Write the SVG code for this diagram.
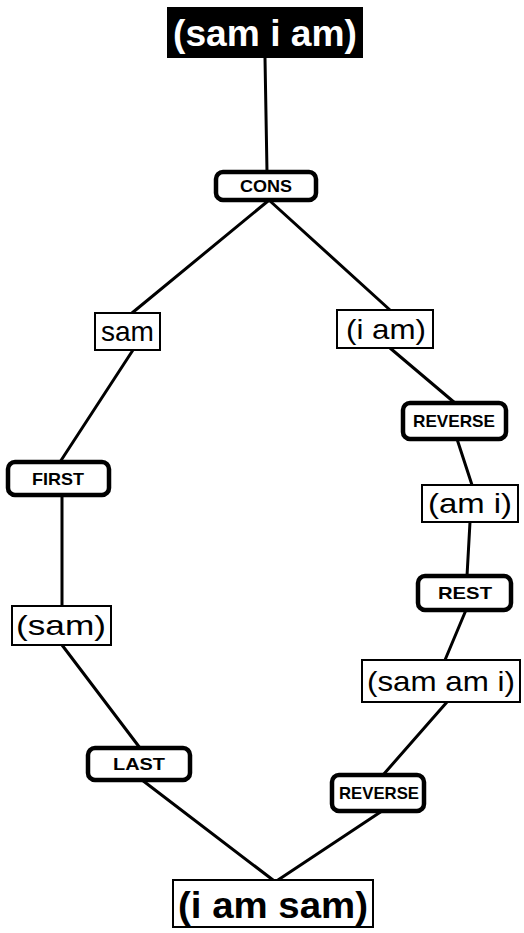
<svg xmlns="http://www.w3.org/2000/svg" width="524" height="933" viewBox="0 0 524 933">
<style>
.edge{stroke:#000;stroke-width:3;fill:none;stroke-linecap:round}
.val{fill:#fff;stroke:#000;stroke-width:2}
.fn{fill:#fff;stroke:#000;stroke-width:4.5}
.vt{font-family:"Liberation Sans",Arial,sans-serif;font-size:28px;text-anchor:middle;fill:#000}
.ft{font-family:"Liberation Sans",Arial,sans-serif;font-size:17px;font-weight:bold;text-anchor:middle;fill:#000}
</style>
<rect width="524" height="933" fill="#fff"/>
<g id="connectors">
<line class="edge" x1="265" y1="58" x2="267" y2="172"/>
<line class="edge" x1="268" y1="201" x2="132" y2="313"/>
<line class="edge" x1="270" y1="201" x2="390" y2="310"/>
<line class="edge" x1="133" y1="350" x2="60" y2="462"/>
<line class="edge" x1="390" y1="348" x2="455" y2="403"/>
<line class="edge" x1="457" y1="439" x2="472" y2="485"/>
<line class="edge" x1="470" y1="522" x2="467" y2="576"/>
<line class="edge" x1="62" y1="495" x2="62" y2="606"/>
<line class="edge" x1="466" y1="610" x2="445" y2="660"/>
<line class="edge" x1="62" y1="645" x2="140" y2="748"/>
<line class="edge" x1="447" y1="702" x2="383" y2="775"/>
<line class="edge" x1="142" y1="780" x2="273" y2="880"/>
<line class="edge" x1="382" y1="811" x2="278" y2="880"/>
</g>
<g id="n-top">
<rect x="167" y="7" width="196" height="51" fill="#000"/>
<text x="265" y="46" font-family="Liberation Sans, Arial, sans-serif" font-size="36" font-weight="bold" fill="#fff" text-anchor="middle" textLength="184" lengthAdjust="spacingAndGlyphs">(sam i am)</text>
</g>
<g id="n-cons">
<rect class="fn" x="216" y="172" width="100" height="28" rx="7"/>
<text class="ft" x="266" y="192" textLength="52" lengthAdjust="spacingAndGlyphs">CONS</text>
</g>
<g id="n-sam">
<rect class="val" x="95" y="313" width="65" height="37"/>
<text class="vt" x="127.5" y="341" textLength="53" lengthAdjust="spacingAndGlyphs">sam</text>
</g>
<g id="n-iam">
<rect class="val" x="337" y="310" width="96" height="38"/>
<text class="vt" x="386" y="339" textLength="80" lengthAdjust="spacingAndGlyphs">(i am)</text>
</g>
<g id="n-reverse1">
<rect class="fn" x="403" y="403" width="103" height="36" rx="7"/>
<text class="ft" x="454" y="427" textLength="82" lengthAdjust="spacingAndGlyphs">REVERSE</text>
</g>
<g id="n-ami">
<rect class="val" x="422" y="485" width="96" height="37"/>
<text class="vt" x="470" y="513" textLength="84" lengthAdjust="spacingAndGlyphs">(am i)</text>
</g>
<g id="n-rest">
<rect class="fn" x="418" y="576" width="93" height="34" rx="7"/>
<text class="ft" x="465" y="599" textLength="54" lengthAdjust="spacingAndGlyphs">REST</text>
</g>
<g id="n-samami">
<rect class="val" x="362" y="660" width="158" height="42"/>
<text class="vt" x="441" y="691" textLength="148" lengthAdjust="spacingAndGlyphs">(sam am i)</text>
</g>
<g id="n-reverse2">
<rect class="fn" x="332" y="775" width="92" height="36" rx="7"/>
<text class="ft" x="379" y="799" textLength="80" lengthAdjust="spacingAndGlyphs">REVERSE</text>
</g>
<g id="n-first">
<rect class="fn" x="8" y="462" width="101" height="33" rx="7"/>
<text class="ft" x="58" y="485" textLength="52" lengthAdjust="spacingAndGlyphs">FIRST</text>
</g>
<g id="n-samlist">
<rect class="val" x="12" y="606" width="99" height="39"/>
<text class="vt" x="61" y="635" textLength="90" lengthAdjust="spacingAndGlyphs">(sam)</text>
</g>
<g id="n-last">
<rect class="fn" x="88" y="748" width="102" height="32" rx="7"/>
<text class="ft" x="139" y="770" textLength="52" lengthAdjust="spacingAndGlyphs">LAST</text>
</g>
<g id="n-iamsam">
<rect class="val" x="173" y="880" width="200" height="47"/>
<text x="273" y="918" font-family="Liberation Sans, Arial, sans-serif" font-size="37" font-weight="bold" text-anchor="middle" textLength="190" lengthAdjust="spacingAndGlyphs">(i am sam)</text>
</g>
</svg>
